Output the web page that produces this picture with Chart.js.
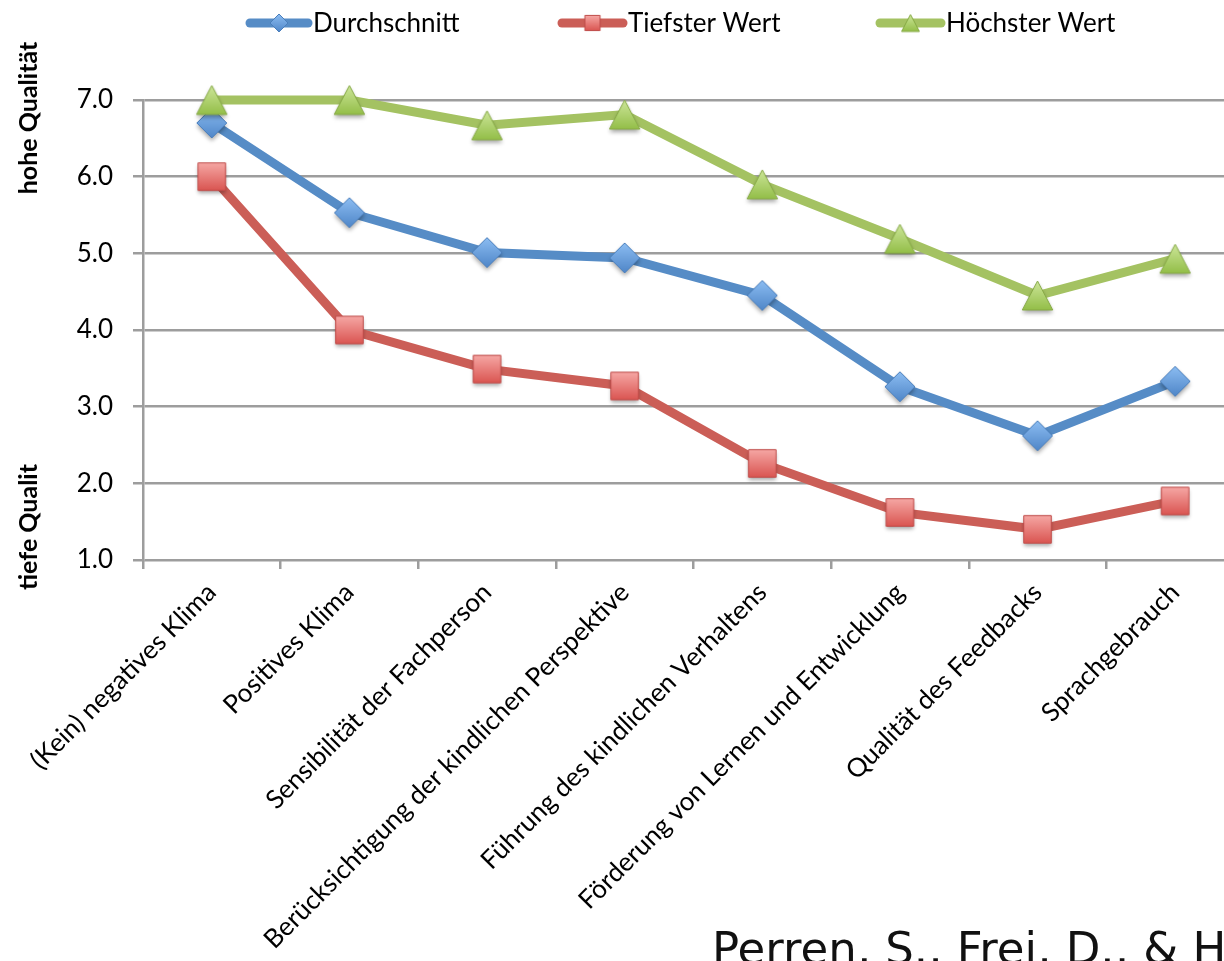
<!DOCTYPE html>
<html><head><meta charset="utf-8">
<script src="https://cdn.jsdelivr.net/npm/chart.js@4/dist/chart.umd.min.js"></script>
<style>
html,body{margin:0;padding:0;background:#fff;overflow:hidden;width:1224px;height:961px;}
#c{position:absolute;left:0;top:0;}
</style></head><body>
<canvas id="c" width="1244" height="961" style="width:1244px;height:961px"></canvas>
<script>
// ---- data ----
const categories = [
  '(Kein) negatives Klima',
  'Positives Klima',
  'Sensibilität der Fachperson',
  'Berücksichtigung der kindlichen Perspektive',
  'Führung des kindlichen Verhaltens',
  'Förderung von Lernen und Entwicklung',
  'Qualität des Feedbacks',
  'Sprachgebrauch'
];
const avgValues = [6.70, 5.53, 5.01, 4.94, 4.45, 3.26, 2.62, 3.33];
const minValues = [6.00, 4.00, 3.49, 3.27, 2.26, 1.62, 1.40, 1.77];
const maxValues = [7.00, 7.00, 6.67, 6.81, 5.90, 5.19, 4.45, 4.93];
const seriesNames = ['Durchschnitt', 'Tiefster Wert', 'Höchster Wert'];
const yMin = 1, yMax = 7, yStep = 1;
const axisTitleHigh = 'hohe Qualität';
const axisTitleLow = 'tiefe Qualit';
const citation = 'Perren, S., Frei, D., & H';

// ---- styles ----
const FONT = 'Lato, "Open Sans", sans-serif';
const GRID = '#9d9d9d';
const styles = [
  {line:'#568CC6', top:'#8CBDF2', bottom:'#4F86C8', stroke:'#4A7EBB', shape:'diamond'},
  {line:'#CB5E57', top:'#F6A9A6', bottom:'#D9534F', stroke:'#BE4B48', shape:'square'},
  {line:'#A4C262', top:'#CDE69A', bottom:'#93BE48', stroke:'#86A945', shape:'triangle'}
];

function makeMarker(st, size, shadow) {
  const pad = 8;
  const c = document.createElement('canvas');
  c.width = c.height = size + 2 * pad;
  const ctx = c.getContext('2d');
  const cx = c.width / 2, cy = c.height / 2, h = size / 2;
  ctx.beginPath();
  if (st.shape === 'diamond') {
    ctx.moveTo(cx, cy - h); ctx.lineTo(cx + h, cy); ctx.lineTo(cx, cy + h); ctx.lineTo(cx - h, cy);
  } else if (st.shape === 'square') {
    const s = h * 0.95;
    ctx.rect(cx - s, cy - s, 2 * s, 2 * s);
  } else {
    ctx.moveTo(cx, cy - h); ctx.lineTo(cx + h * 1.05, cy + h); ctx.lineTo(cx - h * 1.05, cy + h);
  }
  ctx.closePath();
  const g = ctx.createLinearGradient(0, cy - h, 0, cy + h);
  g.addColorStop(0, st.top); g.addColorStop(1, st.bottom);
  ctx.fillStyle = g;
  if (shadow) {
    ctx.shadowColor = 'rgba(0,0,0,0.35)';
    ctx.shadowBlur = 4; ctx.shadowOffsetY = 3;
  }
  ctx.fill();
  ctx.shadowColor = 'transparent';
  ctx.lineWidth = 1; ctx.strokeStyle = st.stroke;
  ctx.stroke();
  return c;
}
const markerSizes = [30, 29, 29];
const markers = styles.map((s, i) => makeMarker(s, markerSizes[i], true));
const legendMarkers = styles.map((s, i) => makeMarker(s, [18, 16, 17][i], false));

const valueSets = [avgValues, minValues, maxValues];
const datasets = valueSets.map((vals, i) => ({
  label: seriesNames[i],
  data: vals,
  borderColor: styles[i].line,
  backgroundColor: styles[i].line,
  borderWidth: 9,
  pointStyle: markers[i],
  pointRadius: 15,
  pointHoverRadius: 15,
  tension: 0,
  clip: false,
  order: 2 - i
}));

const extras = {
  id: 'extras',
  afterDraw(chart) {
    const ctx = chart.ctx;
    ctx.save();
    // legend
    const leg = [{x0: 250, x1: 308, tx: 313}, {x0: 562, x1: 623, tx: 628}, {x0: 880, x1: 941, tx: 946}];
    const ly = 23;
    leg.forEach((l, i) => {
      ctx.beginPath();
      ctx.lineCap = 'round';
      ctx.lineWidth = 9;
      ctx.strokeStyle = styles[i].line;
      ctx.moveTo(l.x0, ly); ctx.lineTo(l.x1, ly); ctx.stroke();
      const m = legendMarkers[i];
      ctx.drawImage(m, (l.x0 + l.x1) / 2 - m.width / 2, ly - m.height / 2);
      ctx.fillStyle = '#000';
      ctx.font = '26px ' + FONT;
      ctx.textAlign = 'left'; ctx.textBaseline = 'middle';
      ctx.fillText(seriesNames[i], l.tx, ly + 1);
    });
    // axis titles
    ctx.font = 'bold 25px ' + FONT;
    ctx.fillStyle = '#000';
    ctx.textAlign = 'center'; ctx.textBaseline = 'middle';
    [[axisTitleHigh, 118], [axisTitleLow, 527]].forEach(([t, y]) => {
      ctx.save(); ctx.translate(29, y); ctx.rotate(-Math.PI / 2);
      ctx.fillText(t, 0, 0); ctx.restore();
    });
    // citation
    ctx.font = '45px "DejaVu Sans", sans-serif';
    ctx.textAlign = 'left'; ctx.textBaseline = 'alphabetic';
    ctx.fillStyle = '#111';
    ctx.fillText(citation, 712, 964);
    ctx.restore();
  }
};

new Chart(document.getElementById('c'), {
  type: 'line',
  data: { labels: categories, datasets },
  options: {
    responsive: false,
    maintainAspectRatio: false,
    animation: false,
    events: [],
    layout: { autoPadding: false, padding: { top: 100, left: 0, right: 0, bottom: 0 } },
    plugins: { legend: { display: false }, tooltip: { enabled: false } },
    scales: {
      x: {
        type: 'category',
        offset: true,
        grid: { display: true, drawOnChartArea: false, drawTicks: true, tickLength: 9, offset: true, color: GRID, lineWidth: 2.5 },
        border: { display: false },
        ticks: { autoSkip: false, minRotation: 45, maxRotation: 45, padding: 8, color: '#000', font: { family: FONT, size: 26 } },
        afterFit(scale) { scale.height = 401; scale.paddingLeft = 0; scale.paddingRight = 0; }
      },
      y: {
        min: yMin, max: yMax,
        grid: { color: GRID, lineWidth: 2.5, tickLength: 10, drawTicks: true },
        border: { display: true, color: GRID, width: 2.5 },
        ticks: { stepSize: yStep, padding: 20, color: '#000', font: { family: FONT, size: 26 },
          callback: v => Number(v).toFixed(1) },
        afterFit(scale) { scale.width = 143; }
      }
    }
  },
  plugins: [extras]
});
</script>
</body></html>
